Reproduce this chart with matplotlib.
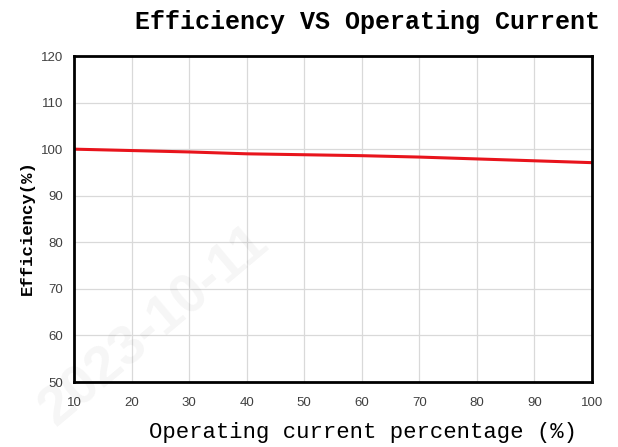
import matplotlib.pyplot as plt
import numpy as np

# data
current_pct = [10, 20, 30, 40, 50, 60, 70, 80, 90, 100]
efficiency = [100.0, 99.7, 99.4, 99.0, 98.8, 98.6, 98.3, 97.9, 97.5, 97.1]
x_ticks = [10, 20, 30, 40, 50, 60, 70, 80, 90, 100]
y_ticks = [50, 60, 70, 80, 90, 100, 110, 120]

fig = plt.figure(figsize=(6.18, 4.47), dpi=100)
ax = fig.add_axes([0.1197, 0.1454, 0.8383, 0.7293])

# faint watermark
fig.text(0.25, 0.27, "2023-10-11", fontsize=40, color="#000000", alpha=0.04,
         rotation=40, ha="center", va="center", family="Liberation Sans",
         fontweight="bold")

ax.plot(current_pct, efficiency, color="#e8141c", linewidth=2.2)

ax.set_xlim(10, 100)
ax.set_ylim(50, 120)
ax.set_xticks(x_ticks)
ax.set_yticks(y_ticks)
ax.grid(True, color="#d9d9d9", linewidth=0.9)
ax.set_axisbelow(True)

for s in ax.spines.values():
    s.set_linewidth(2)
    s.set_color("black")

ax.tick_params(length=0, labelsize=9.5, labelcolor="#404040")
ax.tick_params(axis="x", pad=11)
ax.tick_params(axis="y", pad=8)
for lbl in ax.get_xticklabels() + ax.get_yticklabels():
    lbl.set_family("Liberation Sans")

fig.text(0.594, 0.95, "Efficiency VS Operating Current", ha="center", va="center",
         fontsize=18, family="Liberation Mono", fontweight="bold")
fig.text(0.588, 0.033, "Operating current percentage (%)", ha="center", va="center",
         fontsize=16, family="Liberation Mono")
fig.text(0.045, 0.49, "Efficiency(%)", ha="center", va="center", rotation=90,
         fontsize=12.5, family="Liberation Mono", fontweight="bold")

plt.savefig("out.png", format="png")
plt.close()
